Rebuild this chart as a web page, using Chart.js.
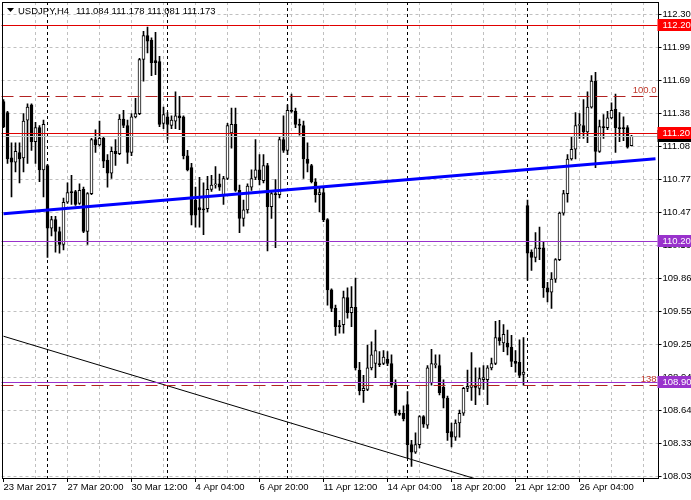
<!DOCTYPE html>
<html>
<head>
<meta charset="utf-8">
<title>USDJPY,H4</title>
<script src="https://cdn.jsdelivr.net/npm/chart.js@4.4.1/dist/chart.umd.min.js"></script>
<style>
  html, body { margin: 0; padding: 0; background: #fff; }
  #wrap { width: 691px; height: 500px; }
</style>
</head>
<body>
<div id="wrap"><canvas id="myChart" width="691" height="500"></canvas></div>
<script>
const symbolTitle = 'USDJPY,H4';

// H4 bars, oldest first
const opens = [
  111.49, 111.39, 110.97, 110.93, 111.02, 110.97, 111.32, 111.46, 111.12, 111.25,
  110.86, 110.90, 110.32, 110.40, 110.29, 110.17, 110.56, 110.66, 110.66, 110.55,
  110.68, 110.29, 110.64, 111.14, 111.09, 111.15, 110.95, 110.83, 111.03, 111.01,
  111.33, 111.27, 111.02, 111.35, 111.38, 111.88, 112.10, 112.06, 111.87, 111.86,
  111.29, 111.35, 111.27, 111.31, 111.36, 111.35, 110.99, 110.88, 110.58, 110.51,
  110.50, 110.50, 110.68, 110.72, 110.73, 110.63, 110.78, 111.20, 111.28, 110.67,
  110.41, 110.49, 110.70, 110.79, 110.86, 110.76, 110.90, 110.52, 110.64, 110.63,
  111.14, 111.04, 111.41, 111.40, 111.28, 111.27, 110.96, 110.90, 110.75, 110.63,
  110.65, 110.40, 109.75, 109.58, 109.42, 109.43, 109.68, 109.54, 109.59, 109.01,
  108.82, 108.83, 109.03, 109.07, 109.07, 109.07, 109.11, 109.07, 108.87, 108.61,
  108.61, 108.69, 108.32, 108.25, 108.32, 108.58, 108.50, 108.89, 109.06, 109.05,
  108.85, 108.75, 108.44, 108.39, 108.52, 108.61, 108.84, 108.85, 108.86, 108.84,
  108.92, 108.92, 109.03, 109.07, 109.31, 109.26, 109.26, 109.22, 109.09, 109.08,
  108.97, 110.53, 110.10, 110.05, 110.14, 110.14, 109.77, 109.73, 109.85, 110.03,
  110.46, 110.64, 110.96, 111.05, 111.27, 111.27, 111.21, 111.44, 111.68, 111.03,
  111.26, 111.25, 111.34, 111.42, 111.25, 111.25, 111.25, 111.084
];
const highs = [
  111.51, 111.40, 111.11, 111.11, 111.11, 111.38, 111.47, 111.47, 111.30, 111.27,
  111.32, 110.91, 110.43, 110.43, 110.33, 110.60, 110.74, 110.81, 110.67, 110.73,
  110.70, 110.65, 111.15, 111.23, 111.31, 111.17, 111.00, 111.07, 111.14, 111.37,
  111.41, 111.32, 111.38, 111.52, 111.89, 112.14, 112.18, 112.08, 112.13, 111.91,
  111.44, 111.39, 111.36, 111.58, 111.54, 111.36, 111.04, 110.92, 110.70, 110.79,
  110.74, 110.80, 110.81, 110.89, 110.82, 110.80, 111.29, 111.43, 111.43, 110.72,
  110.58, 110.73, 110.86, 111.14, 111.00, 111.00, 110.92, 110.66, 110.77, 111.16,
  111.36, 111.46, 111.56, 111.43, 111.33, 111.31, 111.11, 110.91, 110.78, 110.69,
  110.69, 110.41, 109.76, 109.61, 109.47, 109.74, 109.77, 109.78, 109.86, 109.08,
  108.96, 109.24, 109.27, 109.38, 109.18, 109.19, 109.18, 109.15, 108.92, 108.64,
  108.68, 108.81, 108.36, 108.43, 108.59, 108.59, 109.05, 109.20, 109.15, 109.15,
  108.92, 108.77, 108.52, 108.55, 108.64, 108.85, 109.01, 109.17, 109.03, 109.03,
  109.05, 109.05, 109.12, 109.46, 109.47, 109.43, 109.38, 109.33, 109.19, 109.29,
  109.31, 110.58, 110.12, 110.28, 110.33, 110.19, 109.82, 109.91, 110.04, 110.47,
  110.67, 111.00, 111.17, 111.39, 111.38, 111.51, 111.58, 111.73, 111.76, 111.32,
  111.37, 111.40, 111.48, 111.56, 111.39, 111.35, 111.27, 111.178
];
const lows = [
  111.25, 110.92, 110.61, 110.84, 110.74, 110.84, 110.92, 111.04, 110.92, 110.75,
  110.61, 110.05, 110.25, 110.10, 110.09, 110.12, 110.55, 110.54, 110.53, 110.54,
  110.28, 110.17, 110.63, 111.02, 111.08, 110.88, 110.70, 110.78, 110.90, 111.00,
  111.25, 110.92, 110.99, 111.34, 111.37, 111.68, 111.94, 111.73, 111.74, 111.26,
  111.24, 111.14, 111.24, 111.24, 111.23, 110.96, 110.85, 110.35, 110.33, 110.33,
  110.26, 110.47, 110.66, 110.69, 110.67, 110.54, 110.77, 111.06, 110.66, 110.28,
  110.34, 110.46, 110.67, 110.77, 110.72, 110.74, 110.11, 110.41, 110.14, 110.60,
  111.02, 111.00, 111.39, 111.25, 111.18, 110.78, 110.84, 110.74, 110.56, 110.47,
  110.38, 109.61, 109.55, 109.33, 109.35, 109.35, 109.49, 109.41, 109.01, 108.78,
  108.71, 108.82, 109.01, 108.94, 109.04, 109.06, 109.05, 108.85, 108.59, 108.59,
  108.54, 108.20, 108.12, 108.24, 108.29, 108.48, 108.47, 108.87, 109.03, 108.78,
  108.66, 108.36, 108.30, 108.36, 108.39, 108.59, 108.81, 108.73, 108.69, 108.78,
  108.83, 108.69, 109.01, 109.06, 109.24, 109.18, 109.15, 109.04, 108.99, 108.94,
  108.87, 109.84, 109.93, 110.01, 110.03, 109.68, 109.64, 109.58, 109.82, 110.02,
  110.44, 110.56, 110.95, 110.96, 111.15, 111.15, 111.11, 111.43, 110.88, 111.02,
  111.15, 111.23, 111.33, 111.02, 111.12, 111.13, 111.06, 111.081
];
const closes = [
  111.26, 110.96, 110.93, 111.03, 110.96, 111.31, 111.44, 111.12, 111.25, 110.86,
  111.28, 110.32, 110.40, 110.29, 110.17, 110.56, 110.65, 110.65, 110.54, 110.67,
  110.29, 110.64, 111.14, 111.09, 111.15, 110.94, 110.83, 111.03, 111.01, 111.33,
  111.27, 111.02, 111.35, 111.38, 111.88, 112.10, 112.05, 111.85, 111.85, 111.28,
  111.37, 111.28, 111.32, 111.36, 111.34, 110.99, 110.86, 110.44, 110.44, 110.49,
  110.49, 110.68, 110.72, 110.73, 110.70, 110.78, 111.27, 111.28, 110.67, 110.41,
  110.49, 110.71, 110.78, 110.86, 110.77, 110.90, 110.52, 110.64, 110.63, 111.14,
  111.04, 111.41, 111.40, 111.28, 111.27, 110.96, 110.92, 110.75, 110.63, 110.65,
  110.40, 109.75, 109.58, 109.41, 109.41, 109.68, 109.54, 109.59, 109.03, 108.82,
  108.84, 109.03, 109.15, 109.19, 109.06, 109.13, 109.07, 108.87, 108.61, 108.60,
  108.56, 108.32, 108.25, 108.32, 108.58, 108.51, 109.03, 109.07, 109.07, 108.80,
  108.75, 108.43, 108.39, 108.52, 108.61, 108.84, 108.86, 108.87, 108.85, 108.93,
  108.94, 109.03, 109.07, 109.31, 109.28, 109.34, 109.22, 109.09, 109.07, 108.96,
  108.99, 110.09, 110.05, 110.14, 110.13, 109.77, 109.73, 109.85, 110.03, 110.46,
  110.64, 110.96, 111.05, 111.27, 111.28, 111.21, 111.44, 111.68, 111.03, 111.26,
  111.25, 111.34, 111.41, 111.25, 111.24, 111.24, 111.07, 111.173
];

const timeLabels = ['23 Mar 2017', '27 Mar 20:00', '30 Mar 12:00', '4 Apr 04:00', '6 Apr 20:00',
  '11 Apr 12:00', '14 Apr 04:00', '18 Apr 20:00', '21 Apr 12:00', '26 Apr 04:00'];
const labelEvery = 16;  // bars between time labels
const gridEvery = 8;
const emptyBars = 6;    // free slots right of the last bar
const weekStarts = [11, 41, 71, 101, 131];

const yTicks = [112.30, 111.99, 111.69, 111.38, 111.08, 110.77, 110.47, 110.16,
  109.86, 109.55, 109.25, 108.94, 108.64, 108.33, 108.03];
const yMin = 108.012;
const yMax = 112.411;

const redLevels = [112.20, 111.20];
const purpleLevels = [110.20, 108.90];
const fiboLevels = [111.539, 108.871];
const fiboNames = ['100.0', '138'];

// trend lines: price at first and last slot
const blueTrend = [110.454, 110.962];
const blackTrend = [109.322, 107.502];

const FONT = '"Liberation Sans", Arial, sans-serif';
const n = opens.length + emptyBars;
const categories = Array.from({ length: n }, (_, i) => i);
const last = opens.length - 1;

const bodyData = opens.map((o, i) => [o, closes[i]]);
const wickData = opens.map((o, i) => [lows[i], highs[i]]);
const bodyFill = opens.map((o, i) => (closes[i] >= o ? '#ffffff' : '#000000'));

function trendSeries(ends) {
  const arr = new Array(n).fill(null);
  arr[0] = ends[0];
  arr[n - 1] = ends[1];
  return arr;
}

function levelY(scale, p) {
  return Math.round(scale.getPixelForValue(p)) + 0.5;
}

function priceTag(ctx, area, yPx, text, bg) {
  ctx.fillStyle = bg;
  ctx.fillRect(area.right, Math.round(yPx) - 6, 691 - area.right, 12);
  ctx.fillStyle = '#ffffff';
  ctx.font = '9.5px ' + FONT;
  ctx.textAlign = 'left';
  ctx.textBaseline = 'middle';
  ctx.fillText(text, area.right + 5, Math.round(yPx) + 0.5);
}

const mtOverlay = {
  id: 'mtOverlay',
  beforeDatasetsDraw(chart) {
    const { ctx, chartArea: a, scales: { x } } = chart;
    ctx.save();
    ctx.strokeStyle = '#000';
    ctx.lineWidth = 1;
    ctx.setLineDash([3, 3]);
    weekStarts.forEach((i) => {
      const px = Math.floor(x.getPixelForValue(i)) + 0.5;
      ctx.beginPath();
      ctx.moveTo(px, a.top);
      ctx.lineTo(px, a.bottom);
      ctx.stroke();
    });
    ctx.restore();
  },
  afterDatasetsDraw(chart) {
    const { ctx, chartArea: a, scales: { y } } = chart;
    ctx.save();
    ctx.lineWidth = 1;
    const hline = (p, color, dash) => {
      const py = levelY(y, p);
      ctx.strokeStyle = color;
      ctx.setLineDash(dash);
      ctx.beginPath();
      ctx.moveTo(a.left, py);
      ctx.lineTo(a.right, py);
      ctx.stroke();
    };
    hline(closes[last], '#c0c0c0', []);
    redLevels.forEach((p) => hline(p, '#e00000', []));
    purpleLevels.forEach((p) => hline(p, '#9932cc', []));
    fiboLevels.forEach((p) => hline(p, '#b22222', [12, 6]));

    ctx.setLineDash([]);
    ctx.fillStyle = '#c0392b';
    ctx.font = '9.5px ' + FONT;
    ctx.textAlign = 'right';
    ctx.textBaseline = 'bottom';
    fiboLevels.forEach((p, i) => {
      ctx.fillText(fiboNames[i], a.right - 1, y.getPixelForValue(p) - 1);
    });
    ctx.restore();
  },
  afterDraw(chart) {
    const { ctx, chartArea: a, scales: { y } } = chart;
    ctx.save();
    // frame
    ctx.strokeStyle = '#000';
    ctx.lineWidth = 1;
    ctx.strokeRect(2.5, 2.5, Math.round(a.right) - 2, Math.round(a.bottom) - 2);

    // price tags on the right scale
    priceTag(ctx, a, y.getPixelForValue(closes[last]), closes[last].toFixed(2), '#000000');
    redLevels.forEach((p) => priceTag(ctx, a, y.getPixelForValue(p), p.toFixed(2), '#ff0000'));
    purpleLevels.forEach((p) => priceTag(ctx, a, y.getPixelForValue(p), p.toFixed(2), '#9932cc'));

    // header
    ctx.fillStyle = '#000';
    ctx.beginPath();
    ctx.moveTo(7, 8);
    ctx.lineTo(14, 8);
    ctx.lineTo(10.5, 12);
    ctx.closePath();
    ctx.fill();
    ctx.font = '9.5px ' + FONT;
    ctx.textAlign = 'left';
    ctx.textBaseline = 'middle';
    ctx.fillText(symbolTitle, 18, 11);
    const ohlc = [opens[last], highs[last], lows[last], closes[last]].map((v) => v.toFixed(3)).join(' ');
    ctx.fillText(ohlc, 76, 11);
    ctx.restore();
  }
};

const ctx = document.getElementById('myChart').getContext('2d');
const myChart = new Chart(ctx, {
  type: 'bar',
  data: {
    labels: categories,
    datasets: [
      {
        type: 'line',
        data: trendSeries(blueTrend),
        borderColor: '#0000ff',
        borderWidth: 3,
        pointRadius: 0,
        spanGaps: true,
        order: -1,
      },
      {
        type: 'line',
        data: trendSeries(blackTrend),
        borderColor: '#000000',
        borderWidth: 1,
        pointRadius: 0,
        spanGaps: true,
        order: -1,
      },
      {
        type: 'bar',
        data: bodyData,
        backgroundColor: bodyFill,
        borderColor: '#000000',
        borderWidth: 1,
        borderSkipped: false,
        barThickness: 3,
        minBarLength: 1,
        grouped: false,
        order: 0,
      },
      {
        type: 'bar',
        data: wickData,
        backgroundColor: '#000000',
        borderWidth: 0,
        barThickness: 1,
        grouped: false,
        order: 1,
      },
    ],
  },
  options: {
    responsive: false,
    animation: false,
    devicePixelRatio: 1,
    events: [],
    layout: { padding: { left: 1.5, top: 2, right: 0, bottom: 0 } },
    plugins: { legend: { display: false }, tooltip: { enabled: false } },
    scales: {
      x: {
        type: 'category',
        offset: true,
        grid: {
          offset: false,
          color: (c) => (c.index > 0 && c.index % gridEvery === 0 ? '#c0c0c0' : 'rgba(0,0,0,0)'),
          tickLength: 4,
          tickColor: (c) => (c.index % labelEvery === 0 ? '#000000' : 'rgba(0,0,0,0)'),
          tickBorderDash: [],
        },
        border: { display: false, dash: [3, 3] },
        ticks: {
          autoSkip: false,
          maxRotation: 0,
          minRotation: 0,
          align: 'start',
          padding: 0,
          color: '#000',
          font: { family: FONT, size: 9.5 },
          callback: (v, i) => (i % labelEvery === 0 ? timeLabels[i / labelEvery] || '' : ''),
        },
        afterFit: (s) => {
          s.height = 22;
          s.paddingLeft = 0;
          s.paddingRight = 0;
        },
      },
      y: {
        type: 'linear',
        position: 'right',
        min: yMin,
        max: yMax,
        afterBuildTicks: (s) => { s.ticks = yTicks.map((v) => ({ value: v })); },
        grid: {
          color: '#c0c0c0',
          tickLength: 4,
          tickColor: '#000000',
          tickBorderDash: [],
        },
        border: { display: false, dash: [3, 3] },
        ticks: {
          padding: 1,
          color: '#000',
          font: { family: FONT, size: 9.5 },
          callback: (v) => Number(v).toFixed(2),
        },
        afterFit: (s) => {
          s.width = 33.5;
          s.paddingTop = 0;
          s.paddingBottom = 0;
        },
      },
    },
  },
  plugins: [mtOverlay],
});
</script>
</body>
</html>
